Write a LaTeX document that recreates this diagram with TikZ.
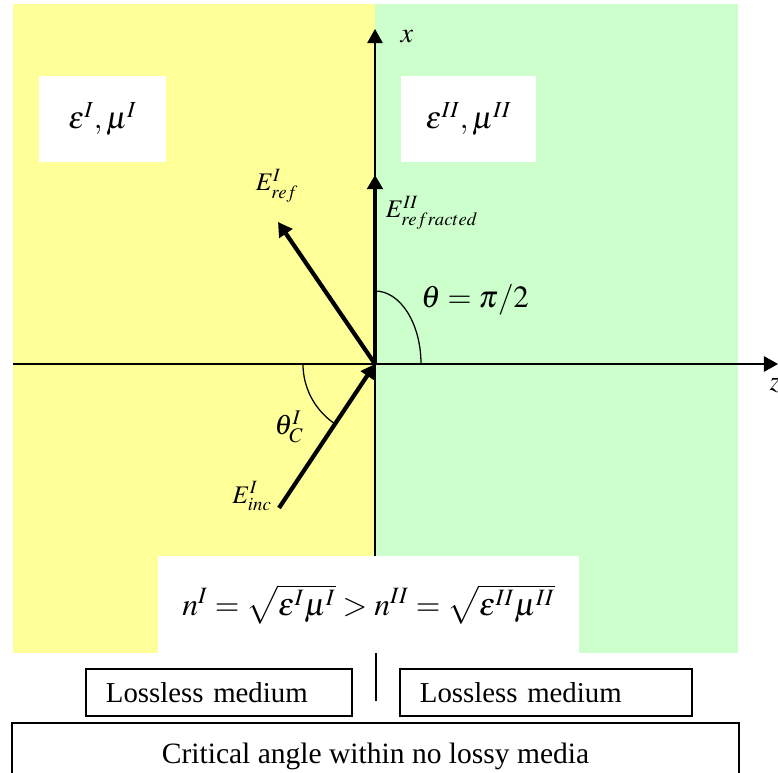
\documentclass[tikz,border=0pt]{standalone}
\usepackage{mathptmx}
\usepackage[no-math]{fontspec}
\setmainfont{Liberation Serif}
\usetikzlibrary{arrows.meta}
\definecolor{mediumI}{RGB}{255,255,153}
\definecolor{mediumII}{RGB}{204,255,204}
\tikzset{
  bigmath/.style={font=\fontsize{22}{26}\selectfont},
  veclabel/.style={font=\fontsize{18}{22}\selectfont},
  anglabel/.style={font=\fontsize{20}{24}\selectfont},
  whitebox/.style={fill=white,inner sep=0pt},
  medbox/.style={draw,line width=0.9pt,fill=white,align=left,inner xsep=0.5cm,
    minimum height=1.175cm,font=\fontsize{20.5}{24}\selectfont},
  vec/.style={->,line width=3pt},
  axis/.style={->,line width=1pt},
}
\begin{document}
\begin{tikzpicture}[x=0.025cm,y=0.025cm,>={Triangle[length=10pt,width=11pt]}]
 \useasboundingbox (0,0) rectangle (778,772);
 \clip (0,0) rectangle (778,772);
 % the two media
 \fill[mediumI] (13,119) rectangle (375,768);
 \fill[mediumII] (375,119) rectangle (738,768);
 \node[whitebox,minimum width=3.175cm,minimum height=2.15cm,bigmath] (epsI) at (102.5,653)
   {$\varepsilon^{I},\mu^{I}$};
 \node[whitebox,minimum width=3.375cm,minimum height=2.15cm,bigmath] (epsII) at (468.5,653)
   {$\varepsilon^{II},\mu^{II}$};
 % axes
 \coordinate (O) at (375,408);
 \coordinate (zstart) at (13,408);
 \coordinate (ztip) at (778,408);
 \coordinate (xstart) at (375,119);
 \coordinate (xtip) at (375,743);
 \draw[axis] (zstart) -- (ztip);
 \draw[axis] (xstart) -- (xtip);
 \node[anglabel] (zlab) at (775,386) {$z$};
 \node[anglabel] (xlab) at (407,735) {$x$};
 % angles
 \draw[line width=0.9pt] ([shift={(180:1.8cm)}]O)
   arc[start angle=180,end angle=236.3,radius=1.8cm];
 \draw[line width=0.9pt] ([xshift=1.15cm]O)
   arc[start angle=0,end angle=90,x radius=1.15cm,y radius=1.825cm];
 \node[veclabel,font=\fontsize{20}{24}\selectfont] (thC) at (289,345) {$\theta^{I}_{C}$};
 \node[anglabel,font=\fontsize{22}{26}\selectfont] (thR) at (475,472) {$\theta=\pi/2$};
 % field vectors
 \coordinate (incstart) at (279,264);
 \coordinate (reftip) at (278,550);
 \coordinate (refrtip) at (375,597);
 \draw[vec] (incstart) -- (O);
 \draw[vec] (O) -- (reftip);
 \draw[vec] (O) -- (refrtip);
 \node[veclabel] (Eref) at (277,586) {$E^{I}_{ref}$};
 \node[veclabel,anchor=west] (Erefr) at (381,559) {$E^{II}_{refracted}$};
 \node[veclabel] (Einc) at (252,276) {$E^{I}_{inc}$};
 % relation and captions
 \node[whitebox,minimum width=10.525cm,minimum height=2.425cm,font=\fontsize{22.5}{27}\selectfont]
   (ncond) at (368.5,167.5)
   {$n^{I}=\sqrt{\varepsilon^{I}\mu^{I}}>n^{II}=\sqrt{\varepsilon^{II}\mu^{II}}$};
 \coordinate (septop) at (376,119);
 \coordinate (sepbot) at (376,71);
 \draw[line width=0.9pt] (septop) -- (sepbot);
 \node[medbox,text width=5.65cm] (lossI) at (219,79.5) {Lossless medium};
 \node[medbox,text width=6.3cm] (lossII) at (546,79.5) {Lossless medium};
 \node[draw,line width=0.9pt,minimum width=18.175cm,minimum height=1.675cm,
   font=\fontsize{21}{25}\selectfont] (crit) at (375.5,15.5)
   {Critical angle within no lossy media};
\end{tikzpicture}
\end{document}
